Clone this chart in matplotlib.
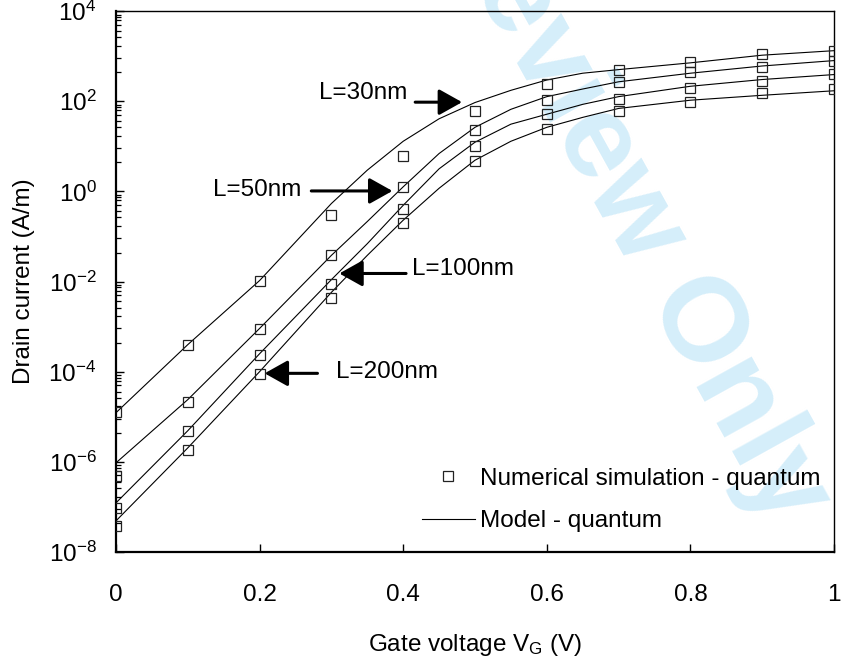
import numpy as np
import matplotlib
matplotlib.use("Agg")
import matplotlib.pyplot as plt
from matplotlib.ticker import FixedLocator, FixedFormatter, NullFormatter
from matplotlib.lines import Line2D

plt.rcParams['font.family'] = ['Liberation Sans', 'DejaVu Sans']
plt.rcParams['mathtext.fontset'] = 'custom'
plt.rcParams['mathtext.rm'] = 'Liberation Sans'
plt.rcParams['mathtext.it'] = 'Liberation Sans:italic'

# ---- data ----
vg_sim = [0.0, 0.1, 0.2, 0.3, 0.4, 0.5, 0.6, 0.7, 0.8, 0.9, 1.0]
sim_30 = [1.26e-5, 3.9e-4, 1.05e-2, 0.295, 6.0, 60, 240, 490, 740, 1100, 1320]
sim_50 = [4.8e-7, 2.1e-5, 8.9e-4, 3.8e-2, 1.26, 22.4, 105, 263, 437, 575, 760]
sim_100 = [9.3e-8, 4.8e-6, 2.4e-4, 8.7e-3, 0.40, 10, 51, 112, 200, 275, 400]
sim_200 = [3.8e-8, 1.86e-6, 9.1e-5, 4.2e-3, 0.20, 4.7, 24, 62, 95, 148, 186]

vg_model = [0.0, 0.1, 0.2, 0.3, 0.35, 0.4, 0.45, 0.5, 0.55, 0.6, 0.65, 0.7, 0.8, 0.9, 1.0]
model_30 = [1.23e-5, 3.98e-4, 1.05e-2, 0.537, 2.95, 12.9, 40.7, 93.3, 174, 295, 417, 501, 708, 1047, 1318]
model_50 = [9.5e-7, 2.4e-5, 9.1e-4, 3.8e-2, 0.214, 1.26, 6.9, 26.3, 66, 126, 186, 269, 417, 603, 794]
model_100 = [1.23e-7, 4.9e-6, 2.5e-4, 1.1e-2, 6.9e-2, 0.49, 3.16, 12.3, 30.9, 51.3, 85, 126, 214, 302, 389]
model_200 = [4.9e-8, 2.04e-6, 1.0e-4, 5.75e-3, 3.8e-2, 0.229, 1.17, 4.9, 12.9, 26.3, 43.7, 69, 105, 135, 170]

x_ticks = [0, 0.2, 0.4, 0.6, 0.8, 1.0]
x_tick_labels = ['0', '0.2', '0.4', '0.6', '0.8', '1']
y_exponents = [-8, -6, -4, -2, 0, 2, 4]

labels = ['L=30nm', 'L=50nm', 'L=100nm', 'L=200nm']
xlabel = 'Gate voltage V$_\\mathregular{G}$ (V)'
ylabel = 'Drain current (A/m)'
legend_labels = ['Numerical simulation - quantum', 'Model - quantum']

FS = 17.5

fig = plt.figure(figsize=(8.41, 6.63), dpi=100)
ax = fig.add_axes([116/841, 1-552/663, 718/841, 541/663])
ax.set_facecolor('none')

# watermark
ax.text(630/841, 1-205/663, 'Review Only', transform=fig.transFigure,
        rotation=-61, rotation_mode='anchor', ha='center', va='center',
        fontsize=86, fontweight='bold', color='#d5eefa', zorder=0, clip_on=False)

for m in [model_30, model_50, model_100, model_200]:
    ax.plot(vg_model, m, color='black', lw=0.8, zorder=2)
for s in [sim_30, sim_50, sim_100, sim_200]:
    ax.plot(vg_sim, s, linestyle='none', marker='s', markersize=7.5,
            markerfacecolor='none', markeredgecolor='#222222', markeredgewidth=0.9, zorder=3)

ax.set_yscale('log')
ax.set_xlim(0, 1)
ax.set_ylim(1e-8, 1e4)

ax.xaxis.set_major_locator(FixedLocator(x_ticks))
ax.xaxis.set_major_formatter(FixedFormatter(x_tick_labels))
ax.yaxis.set_major_locator(FixedLocator([10.0**e for e in y_exponents]))
ax.yaxis.set_major_formatter(FixedFormatter([r'$\mathregular{10^{%d}}$' % e for e in y_exponents]))

fracs = [0.04, 0.066, 0.10, 0.15, 0.22, 0.29, 0.385, 0.52, 0.68]
minor = []
for top in y_exponents[1:]:
    for f in fracs:
        minor.append(10.0 ** (top - 2 * f))
ax.yaxis.set_minor_locator(FixedLocator(minor))
ax.yaxis.set_minor_formatter(NullFormatter())
ax.xaxis.set_minor_locator(FixedLocator([]))

ax.tick_params(axis='x', which='major', direction='in', length=6, width=1.0,
               labelsize=FS, pad=23, top=False)
ax.tick_params(axis='y', which='major', direction='in', length=6, width=1.0,
               labelsize=FS, pad=14, right=False)
ax.tick_params(axis='y', which='minor', direction='in', length=3.5, width=0.9, right=False)

for sp in ['left', 'bottom']:
    ax.spines[sp].set_linewidth(1.6)
for sp in ['top', 'right']:
    ax.spines[sp].set_linewidth(1.0)

ax.set_xlabel(xlabel, fontsize=FS, labelpad=19)
ax.set_ylabel(ylabel, fontsize=FS, labelpad=10)

# annotations
arrow_kw = dict(arrowstyle='-|>,head_length=0.75,head_width=0.42', lw=2.2,
                color='black', shrinkA=0, shrinkB=0, mutation_scale=19)

ax.annotate('', xy=(0.482, 95), xytext=(0.4167, 95), arrowprops=arrow_kw)
ax.text(0.4056, 10**2.178, labels[0], ha='right', va='center', fontsize=FS)

ax.annotate('', xy=(0.385, 1.02), xytext=(0.272, 1.02), arrowprops=arrow_kw)
ax.text(0.2583, 10**0.022, labels[1], ha='right', va='center', fontsize=FS)

ax.annotate('', xy=(0.311, 10**-1.822), xytext=(0.404, 10**-1.822), arrowprops=arrow_kw)
ax.text(0.4125, 10**-1.733, labels[2], ha='left', va='center', fontsize=FS)

ax.annotate('', xy=(0.207, 10**-4.037), xytext=(0.2806, 10**-4.037), arrowprops=arrow_kw)
ax.text(0.3069, 10**-4.016, labels[3], ha='left', va='center', fontsize=FS)

handles = [Line2D([], [], linestyle='none', marker='s', markersize=6.5,
                  markerfacecolor='none', markeredgecolor='#222222', markeredgewidth=0.9),
           Line2D([], [], color='black', lw=0.8)]
ax.legend(handles, legend_labels, loc='center', bbox_to_anchor=((621 - 116) / 718, (552 - 500) / 541),
          frameon=False, fontsize=FS, handlelength=2.2, handletextpad=0.2,
          labelspacing=0.85, borderpad=0.2)

fig.savefig('out.png', dpi=100)
